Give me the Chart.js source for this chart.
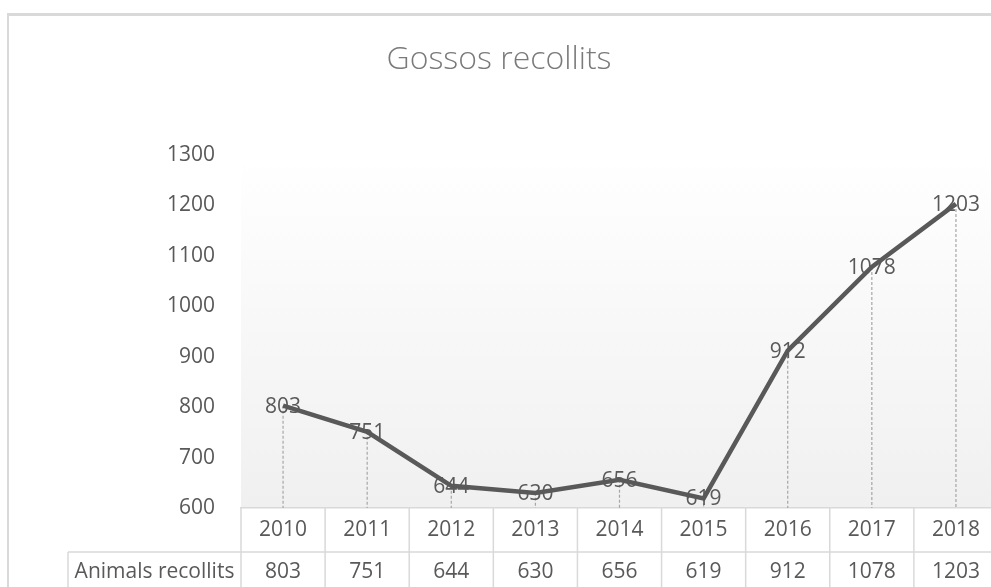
<!DOCTYPE html>
<html>
<head>
<meta charset="utf-8">
<script src="https://cdn.jsdelivr.net/npm/chart.js@4"></script>
<style>
  html, body { margin: 0; padding: 0; background: #fff; overflow: hidden; }
  #wrap { position: absolute; left: 0; top: 0; width: 1010px; height: 600px; }
  #frame { position: absolute; left: 7px; top: 13px; width: 1100px; height: 700px;
           border-left: 2px solid #d9d9d9; border-top: 3px solid #d9d9d9; pointer-events: none; }
</style>
</head>
<body>
<div id="wrap"><canvas id="chart" width="1010" height="600"></canvas></div>
<div id="frame"></div>
<script>
const years = ['2010', '2011', '2012', '2013', '2014', '2015', '2016', '2017', '2018'];
const animals = [803, 751, 644, 630, 656, 619, 912, 1078, 1203];
const seriesName = 'Animals recollits';
const chartTitle = 'Gossos recollits';

const FONT = "'Open Sans', sans-serif";
const TEXT = '#595959';
const GRID = '#d9d9d9';

// gradient fill of the plot area
const plotBg = {
    id: 'plotBg',
    beforeDraw(chart) {
        const { ctx, chartArea: a } = chart;
        const g = ctx.createLinearGradient(0, a.top, 0, a.bottom);
        g.addColorStop(0, '#ffffff');
        g.addColorStop(1, '#f0f0f0');
        ctx.save();
        ctx.fillStyle = g;
        ctx.fillRect(a.left, a.top, a.right - a.left, a.bottom - a.top);
        ctx.restore();
    }
};

// drop lines + value labels
const marks = {
    id: 'marks',
    beforeDatasetsDraw(chart) {
        const { ctx, chartArea: a } = chart;
        const pts = chart.getDatasetMeta(0).data;
        ctx.save();
        ctx.strokeStyle = '#a6a6a6';
        ctx.lineWidth = 1.2;
        ctx.setLineDash([3, 2]);
        pts.forEach(p => {
            ctx.beginPath();
            ctx.moveTo(p.x, p.y);
            ctx.lineTo(p.x, a.bottom);
            ctx.stroke();
        });
        ctx.restore();
    },
    afterDatasetsDraw(chart) {
        const { ctx } = chart;
        const pts = chart.getDatasetMeta(0).data;
        ctx.save();
        ctx.fillStyle = TEXT;
        ctx.font = `21px ${FONT}`;
        ctx.textAlign = 'center';
        ctx.textBaseline = 'middle';
        pts.forEach((p, i) => ctx.fillText(animals[i], p.x, p.y + 1));
        ctx.restore();
    }
};

// data table under the x axis
const dataTable = {
    id: 'dataTable',
    afterDraw(chart) {
        const { ctx, chartArea: a, scales: { x } } = chart;
        const colW = (a.right - a.left) / years.length;
        const rowTop = a.bottom + 44;
        const bottom = chart.height;
        const headLeft = 68;
        ctx.save();
        ctx.strokeStyle = GRID;
        ctx.lineWidth = 1.5;
        ctx.beginPath();
        ctx.moveTo(headLeft, rowTop);
        ctx.lineTo(a.right, rowTop);
        ctx.moveTo(headLeft, rowTop);
        ctx.lineTo(headLeft, bottom);
        for (let i = 0; i <= years.length; i++) {
            const cx = a.left + i * colW;
            ctx.moveTo(cx, a.bottom);
            ctx.lineTo(cx, bottom);
        }
        ctx.stroke();

        ctx.fillStyle = TEXT;
        ctx.font = `21px ${FONT}`;
        ctx.textAlign = 'center';
        ctx.textBaseline = 'middle';
        const ty = rowTop + 20;
        ctx.fillText(seriesName, (headLeft + a.left) / 2, ty);
        animals.forEach((v, i) => ctx.fillText(v, x.getPixelForValue(i), ty));
        ctx.restore();
    }
};

new Chart(document.getElementById('chart'), {
    type: 'line',
    data: {
        labels: years,
        datasets: [{
            label: seriesName,
            data: animals,
            borderColor: '#595959',
            borderWidth: 4.5,
            pointRadius: 0,
            tension: 0,
            fill: false
        }]
    },
    options: {
        responsive: false,
        animation: false,
        layout: { padding: { left: 0, right: 12, top: 0, bottom: 0 } },
        plugins: {
            legend: { display: false },
            tooltip: { enabled: false },
            title: {
                display: true,
                text: chartTitle,
                color: '#7a7a7a',
                font: { family: FONT, size: 32, weight: '300' },
                padding: { top: 41, bottom: 75.6 }
            }
        },
        scales: {
            x: {
                offset: true,
                grid: { display: false, drawTicks: false },
                border: { display: true, color: GRID, width: 1.5 },
                ticks: { color: TEXT, font: { family: FONT, size: 21 }, padding: 9, maxRotation: 0, autoSkip: false },
                afterFit(s) { s.height = 92; }
            },
            y: {
                min: 600,
                max: 1300,
                grid: { display: false, drawTicks: false },
                border: { display: false },
                ticks: {
                    stepSize: 100,
                    color: TEXT,
                    font: { family: FONT, size: 21 },
                    padding: 26,
                    callback: v => String(v)
                },
                afterFit(s) { s.width = 241; }
            }
        }
    },
    plugins: [plotBg, marks, dataTable]
});
</script>
</body>
</html>
